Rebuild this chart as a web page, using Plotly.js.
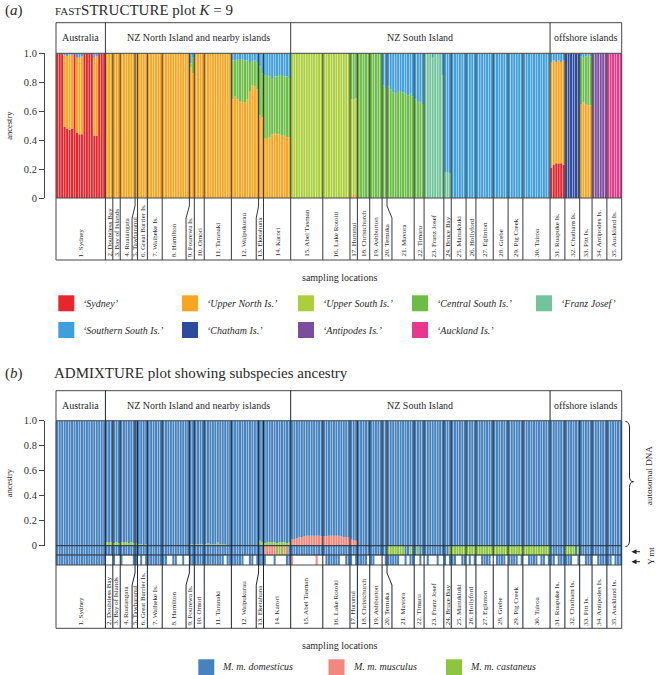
<!DOCTYPE html>
<html>
<head>
<meta charset="utf-8">
<script src="https://cdn.plot.ly/plotly-3.0.1.min.js"></script>
<style>
html,body{margin:0;padding:0;background:#fff;}
#chart{width:656px;height:675px;}
#chart .barlayer path{shape-rendering:geometricPrecision !important;}
</style>
</head>
<body>
<div id="chart"></div>
<script>
// ================= DATA =================
const popNames = ['Sydney','Doubtless Bay','Bay of Islands','Ruatangata','Tawharanui','Great Barrier Is.','Waiheke Is.','Hamilton','Pourewa Is.','Omori','Taranaki','Waipukurau','Eketahuna','Karori','Abel Tasman','Lake Rotoiti','Hurunui','Christchurch','Ashburton','Temuka','Mavora','Timaru','Franz Josef','Bruce Bay','Manukiuki','Hollyford','Eglinton','Grebe','Pig Creek','Tairoa','Ruapuke Is.','Chatham Is.','Pitt Is.','Antipodes Is.','Auckland Is.'];
const nInd = [20,3,3,6,1,4,6,11,2,4,11,11,2,11,13,11,3,5,5,2,11,4,8,3,6,4,7,6,6,11,6,6,5,6,6];
const groupNames = ['Australia','NZ North Island and nearby islands','NZ South Island','offshore islands'];
const groupLastPop = [1,14,30,35];

// (a) fastSTRUCTURE K = 9 clusters (stack order bottom -> top)
const clusterNames = ['Sydney','Upper North Is.','Upper South Is.','Central South Is.','Franz Josef','Southern South Is.','Chatham Is.','Antipodes Is.','Auckland Is.'];
const clusterColors = ['#e8252c','#f9a51f','#abcf3b','#6bbd46','#72c59b','#3f9fdc','#2d4a9d','#7c4d9f','#e7388e'];
// cluster that takes the remaining ancestry in each population
const popMainCluster = [1,1,1,1,1,1,1,1,1,1,1,3,3,3,2,2,2,3,3,3,5,5,5,5,5,5,5,5,5,5,1,6,3,7,8];

const sydneyRed   = [1,1,1,0.49,0.48,0.47,0.48,1,0.45,0.44,0.44,1,1,1,1,0.43,0.43,1,1,1];
const sydneyBlue  = [0,0,0,0.015,0.02,0.01,0.01,0,0.03,0.03,0.02,0,0,0,0,0.03,0.02,0,0,0];
const pourewaGreen = [0.03,0.11];
const pourewaBlue  = [0.07,0.03];
const waipukurauOrange = [0.68,0.70,0.68,0.67,0.66,0.66,0.68,0.74,0.78,0.77,0.75];
const waipukurauBlue   = [0.05,0.05,0.045,0.04,0.045,0.05,0.05,0.06,0.055,0.05,0.06];
const eketahunaOrange = [0.57,0.56];
const eketahunaBlue   = [0.09,0.14];
const karoriOrange = [0.41,0.41,0.42,0.44,0.45,0.44,0.44,0.43,0.43,0.42,0.42];
const karoriBlue   = [0.15,0.15,0.16,0.17,0.16,0.16,0.15,0.15,0.16,0.16,0.17];
const hurunuiOrange = [0.02,0.02,0.02];
const hurunuiGreen  = [0.32,0.32,0.31];
const temukaBlue = [0.22,0.24];
const mavoraGreen = [0.77,0.75,0.73,0.72,0.74,0.74,0.73,0.72,0.71,0.72,0.70];
const timaruGreen = [0.68,0.67,0.66,0.65];
const franzTeal = [1,1,1,0.97,1,1,0.99,0.85];
const bruceTeal = [0.18,0.18,0.17];
const ruapukeRed  = [0.21,0.23,0.24,0.24,0.24,0.23];
const ruapukeBlue = [0.06,0.05,0.06,0.05,0.06,0.05];
const pittOrange = [0.65,0.66,0.65,0.64,0.64];
const pittBlue   = [0.02,0.03,0.02,0.01,0.02];
// [population number, cluster index, per-individual values]
const topAdmix = [
  [1,0,sydneyRed],[1,5,sydneyBlue],
  [9,3,pourewaGreen],[9,5,pourewaBlue],
  [12,1,waipukurauOrange],[12,5,waipukurauBlue],
  [13,1,eketahunaOrange],[13,5,eketahunaBlue],
  [14,1,karoriOrange],[14,5,karoriBlue],
  [17,1,hurunuiOrange],[17,3,hurunuiGreen],
  [20,5,temukaBlue],
  [21,3,mavoraGreen],
  [22,3,timaruGreen],
  [23,4,franzTeal],
  [24,4,bruceTeal],
  [31,0,ruapukeRed],[31,5,ruapukeBlue],
  [33,1,pittOrange],[33,5,pittBlue]
];

// (b) ADMIXTURE subspecies ancestry
const subspNames = ['M. m. domesticus','M. m. musculus','M. m. castaneus'];
const subspColors = ['#4682be','#f3877b','#8cc63f'];
const castDoubtless = [0.03,0.03,0.025];
const castBayIslands = [0.02,0.03,0.02];
const castRuatangata = [0.025,0.03,0.03,0.02,0.03,0.02];
const castTawharanui = [0.015];
const castGreatBarrier = [0.01,0.01,0.005,0.01];
const castPourewa = [0.01,0.01];
const castOmori = [0.01,0.01,0.01,0.01];
const castTaranaki = [0.01,0.02,0.01,0.01,0.01,0.025,0.01,0.01,0.01,0.005,0.005];
const castEketahuna = [0.04,0.03];
const castKarori = [0.02,0.03,0.025,0.03,0.03,0.02,0.03,0.025,0.03,0.02,0.025];
const musAbelTasman = [0.05,0.05,0.06,0.07,0.07,0.075,0.08,0.08,0.08,0.08,0.08,0.08,0.075];
const musLakeRotoiti = [0.075,0.075,0.08,0.08,0.08,0.08,0.08,0.075,0.07,0.07,0.065];
const musHurunui = [0.05,0.045,0.04];
// [population number, subspecies index, per-individual values]
const bottomAdmix = [
  [2,2,castDoubtless],[3,2,castBayIslands],[4,2,castRuatangata],[5,2,castTawharanui],
  [6,2,castGreatBarrier],[9,2,castPourewa],[10,2,castOmori],[11,2,castTaranaki],
  [13,2,castEketahuna],[14,2,castKarori],
  [15,1,musAbelTasman],[16,1,musLakeRotoiti],[17,1,musHurunui]
];
// mitochondrial and Y haplotypes per individual: d = domesticus, m = musculus, c = castaneus, - = no data
const mtCodes = ['dddddddddddddddddddd','ddd','ddd','dddddd','d','dddd','dddddd','ddddddddddd','dd','dddd','ddddddddddd','ddddddddddd','dd','mmmmmccmcmd','ddddddddddddd','ddddddddddd','ddd','ddddd','ddddd','dd','cccccccddcd','dcdd','dddddddd','ddc','cccccc','cccc','ccccccc','cccccc','cccccc','ccccccccccc','dddddd','ccccdc','ddddd','dddddd','dddddd'];
const yCodes = ['dddddddddddddddddddd','---','d--','d----d','d','-d-d','dddddd','dd--dd--d--','dd','dddd','dddddddd-dd','ddddd--dd-d','dd','d---d----dd','m---------m--','-dddddd--dd','d-d','dddd-','dd---','-d','ddddd--d-dd','--d-','-d---d--','d-d','dd--dd','-d-d','--dddd-','-dddd-','dddd-d','--dddd-dd-d','dd-ddd','ddd--d','--ddd','--dddd','dd-ddd'];
const subspCode = {d:0, m:1, c:2};

const ancestryTicks = [0,0.2,0.4,0.6,0.8,1];
const ancestryTickText = ['0','0.2','0.4','0.6','0.8','1.0'];

// ================= LAYOUT CONSTANTS =================
const W = 656, H = 675;
const FONT = '"Liberation Serif", "Times New Roman", Times, serif';
const TXT = '#2a2a2a';
const X0 = 56/W, X1 = 621.7/W;
const py = v => 1 - v/H;
const pxx = v => v/W;
const slantAfterPop = [4, 8, 12, 20];
const slantShift = [-1.2, -1.35, -0.95, 2.0];
const shiftOf = k => { const i = slantAfterPop.indexOf(k); return i < 0 ? 0 : slantShift[i]; };

// panel geometry (pixels)
const PA = {xr:'x', hTop:22.7, pTop:53.3, pBot:198, lTop:198, lBot:260, lineCol:'#3a3a3a'};
const PB = {xr:'x2', hTop:390.7, pTop:420.7, pBot:545.7, lTop:565, lBot:628.3, lineCol:'#1d2430'};

// ================= BUILD =================
const N = nInd.reduce((a,b)=>a+b,0);
const starts = []; { let acc = 0; nInd.forEach(n => { starts.push(acc); acc += n; }); }
const xs = Array.from({length:N}, (_,i)=>i);

const topQ = clusterNames.map(() => new Array(N).fill(0));
nInd.forEach((n,p) => {
  for (let i = 0; i < n; i++) {
    let sum = 0;
    topAdmix.forEach(([pop,c,vals]) => { if (pop === p+1) { topQ[c][starts[p]+i] = vals[i]; sum += vals[i]; } });
    topQ[popMainCluster[p]][starts[p]+i] = Math.max(0, 1 - sum);
  }
});

const botQ = subspNames.map(() => new Array(N).fill(0));
nInd.forEach((n,p) => {
  for (let i = 0; i < n; i++) {
    let sum = 0;
    bottomAdmix.forEach(([pop,s,vals]) => { if (pop === p+1) { botQ[s][starts[p]+i] = vals[i]; sum += vals[i]; } });
    botQ[0][starts[p]+i] = Math.max(0, 1 - sum);
  }
});

const mtColors = [], yColors = [], ones = [];
nInd.forEach((n,p) => {
  for (let i = 0; i < n; i++) {
    const m = mtCodes[p][i] || 'd';
    const y = yCodes[p][i] || '-';
    mtColors.push(subspColors[subspCode[m]]);
    yColors.push(y === '-' ? '#ffffff' : subspColors[subspCode[y]]);
    ones.push(1);
  }
});

const traces = [];
clusterNames.forEach((name,c) => {
  traces.push({type:'bar', x:xs, y:topQ[c], name:name, xaxis:'x', yaxis:'y',
    marker:{color:clusterColors[c], line:{width:0}}, showlegend:false, hoverinfo:'skip'});
});
[1,2,0].forEach(s => {
  traces.push({type:'bar', x:xs, y:botQ[s], name:subspNames[s], xaxis:'x2', yaxis:'y2',
    marker:{color:subspColors[s], line:{width:0}}, showlegend:false, hoverinfo:'skip'});
});
traces.push({type:'bar', x:xs, y:ones, name:'Y', xaxis:'x2', yaxis:'y3',
  marker:{color:yColors, line:{width:0}}, showlegend:false, hoverinfo:'skip'});
traces.push({type:'bar', x:xs, y:ones, name:'mt', xaxis:'x2', yaxis:'y3',
  marker:{color:mtColors, line:{width:0}}, showlegend:false, hoverinfo:'skip'});

// ---------- shapes ----------
const shapes = [];
function panelShapes(P) {
  const lc = P.lineCol;
  shapes.push({type:'rect', xref:'paper', yref:'paper', x0:X0, x1:X1, y0:py(P.pTop), y1:py(P.hTop), line:{color:'#444', width:1}});
  shapes.push({type:'rect', xref:'paper', yref:'paper', x0:X0, x1:X1, y0:py(P.lBot), y1:py(P.lTop), line:{color:'#444', width:1}});
  [X0, X1].forEach(xv => shapes.push({type:'line', xref:'paper', yref:'paper', x0:xv, x1:xv, y0:py(P.pTop), y1:py(P.lTop), line:{color:lc, width:1}}));
  for (let k = 1; k < nInd.length; k++) {
    const b = starts[k] - 0.5;
    const isGroup = groupLastPop.includes(k);
    const s = shiftOf(k);
    const top = isGroup ? P.hTop : P.pTop;
    if (s === 0) {
      shapes.push({type:'line', xref:P.xr, yref:'paper', x0:b, x1:b, y0:py(top), y1:py(P.lBot), line:{color:lc, width:1}});
    } else {
      const path = `M ${b},${py(top)} L ${b},${py(P.lTop+8)} L ${b+s},${py(P.lTop+20)} L ${b+s},${py(P.lBot)}`;
      shapes.push({type:'path', xref:P.xr, yref:'paper', path:path, line:{color:lc, width:1}});
    }
  }
}
panelShapes(PA);
panelShapes(PB);
[545.7, 555].forEach(yv => shapes.push({type:'line', xref:'paper', yref:'paper', x0:X0, x1:X1, y0:py(yv), y1:py(yv), line:{color:PB.lineCol, width:1}}));

// legend squares
const legA_cols = [58.3, 182, 298, 412, 536];
const legA_rows = [303.3, 330];
clusterNames.forEach((name,c) => {
  const cx = legA_cols[c % 5], cy = legA_rows[Math.floor(c/5)];
  shapes.push({type:'rect', xref:'paper', yref:'paper', x0:pxx(cx), x1:pxx(cx+16), y0:py(cy+8), y1:py(cy-8), fillcolor:clusterColors[c], line:{width:0}});
});
const legB_cols = [198.3, 328.5, 446];
subspNames.forEach((name,s) => {
  shapes.push({type:'rect', xref:'paper', yref:'paper', x0:pxx(legB_cols[s]), x1:pxx(legB_cols[s]+16), y0:py(675.3), y1:py(659.3), fillcolor:subspColors[s], line:{width:0}});
});

// curly brace
{
  const P = (x,y) => `${pxx(x)},${py(y)}`;
  const path = `M ${P(625.5,421.5)} Q ${P(629.5,421.5)} ${P(629.5,428)} L ${P(629.5,476)} Q ${P(629.5,481.7)} ${P(633.5,481.7)} Q ${P(629.5,481.7)} ${P(629.5,487.5)} L ${P(629.5,540)} Q ${P(629.5,546.5)} ${P(625.5,546.5)}`;
  shapes.push({type:'path', xref:'paper', yref:'paper', path:path, line:{color:'#222', width:1}});
}

// ---------- annotations ----------
const annotations = [];
const txt = (x,y,text,size,opts={}) => Object.assign({xref:'paper', yref:'paper', x:x, y:y, text:text, showarrow:false,
  font:{family:FONT, size:size, color:TXT}, xanchor:'left', yanchor:'middle'}, opts);

annotations.push(txt(pxx(3), py(10), '(<i>a</i>)', 15));
annotations.push(txt(pxx(53), py(10), '<span style="font-size:11px">FAST</span>STRUCTURE plot <i>K</i> = 9', 15));
annotations.push(txt(pxx(3), py(373), '(<i>b</i>)', 15));
annotations.push(txt(pxx(52), py(373), 'ADMIXTURE plot showing subspecies ancestry', 15));

function panelAnnotations(P) {
  // group headers
  let first = 0;
  groupNames.forEach((g,gi) => {
    const last = groupLastPop[gi];
    const x0 = starts[first] - 0.5, x1 = starts[last-1] + nInd[last-1] - 0.5;
    annotations.push({xref:P.xr, yref:'paper', x:(x0+x1)/2, y:py((P.hTop+P.pTop)/2), text:g, showarrow:false,
      font:{family:FONT, size:10, color:TXT}, xanchor:'center', yanchor:'middle'});
    first = last;
  });
  // sampling location labels
  popNames.forEach((name,p) => {
    const left = starts[p] - 0.5 + shiftOf(p);
    const right = starts[p] + nInd[p] - 0.5 + shiftOf(p+1);
    annotations.push({xref:P.xr, yref:'paper', x:(left+right)/2, y:py(P.lBot-2), text:(p+1)+'. '+name,
      textangle:-90, showarrow:false, font:{family:FONT, size:7, color:TXT}, xanchor:'center', yanchor:'bottom', borderpad:0});
  });
}
panelAnnotations(PA);
panelAnnotations(PB);

annotations.push(txt(pxx(339), py(277), 'sampling locations', 10, {xanchor:'center'}));
annotations.push(txt(pxx(339), py(645), 'sampling locations', 10, {xanchor:'center'}));

clusterNames.forEach((name,c) => {
  const cx = legA_cols[c % 5], cy = legA_rows[Math.floor(c/5)];
  annotations.push(txt(pxx(cx+23), py(cy), '<i>\u2018' + name + '\u2019</i>', 10));
});
subspNames.forEach((name,s) => {
  annotations.push(txt(pxx(legB_cols[s]+22), py(666.7), '<i>' + name + '</i>', 10));
});

annotations.push(txt(pxx(649), py(476), 'autosomal DNA', 9, {xanchor:'center', textangle:-90}));
annotations.push(txt(pxx(651), py(551.7), 'mt', 9, {xanchor:'center', textangle:-90}));
annotations.push(txt(pxx(651), py(561.7), 'Y', 9, {xanchor:'center', textangle:-90}));
[551.7, 561.7].forEach(yv => annotations.push({xref:'paper', yref:'paper', x:pxx(631.5), y:py(yv), ax:10, ay:0,
  text:'', showarrow:true, arrowhead:2, arrowsize:1, arrowwidth:1, arrowcolor:'#222'}));

// ---------- axes ----------
const hiddenX = {showticklabels:false, ticks:'', showgrid:false, zeroline:false, showline:false, fixedrange:true};
const yAxisStyle = (dom) => ({
  domain:dom, range:[0,1], anchor:'free', position:44/W, side:'left',
  showline:true, linecolor:'#444', linewidth:1, ticks:'outside', ticklen:5, tickwidth:1, tickcolor:'#444',
  tickmode:'array', tickvals:ancestryTicks, ticktext:ancestryTickText,
  tickfont:{family:FONT, size:10.5, color:'#333'}, showgrid:false, zeroline:false, fixedrange:true,
  title:{text:'ancestry', font:{family:FONT, size:8.5, color:TXT}, standoff:8}
});

const layout = {
  width:W, height:H, margin:{l:0, r:0, t:0, b:0},
  paper_bgcolor:'#ffffff', plot_bgcolor:'rgba(0,0,0,0)',
  barmode:'stack', bargap:0.18, showlegend:false,
  xaxis: Object.assign({domain:[X0,X1], range:[-0.5, N-0.5], anchor:'y'}, hiddenX),
  xaxis2: Object.assign({domain:[X0,X1], range:[-0.5, N-0.5], anchor:'y2'}, hiddenX),
  yaxis: yAxisStyle([py(PA.pBot), py(PA.pTop)]),
  yaxis2: yAxisStyle([py(PB.pBot), py(PB.pTop)]),
  yaxis3: {domain:[py(565), py(545.7)], range:[0,2], anchor:'x2', showticklabels:false, ticks:'', showgrid:false, zeroline:false, showline:false, fixedrange:true},
  shapes:shapes, annotations:annotations,
  font:{family:FONT, color:TXT}
};

Plotly.newPlot('chart', traces, layout, {staticPlot:true, displayModeBar:false});
</script>
</body>
</html>
